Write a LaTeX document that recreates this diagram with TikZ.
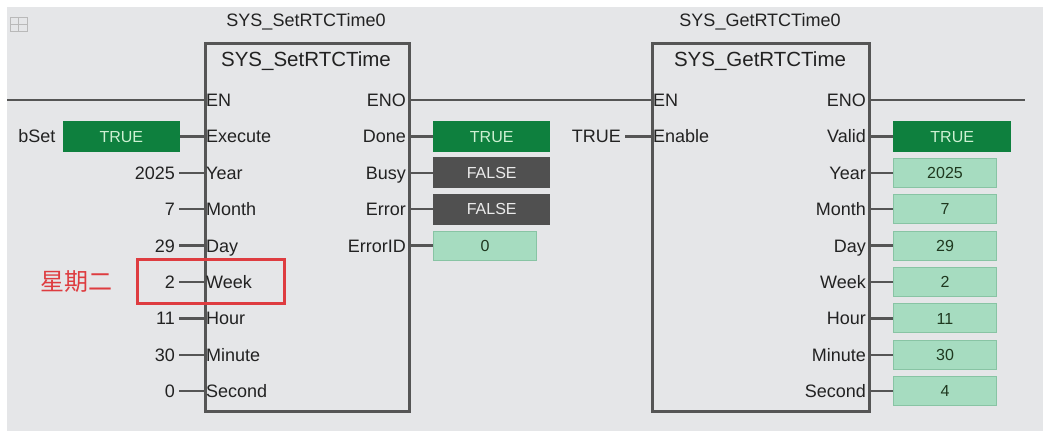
\documentclass[tikz,border=0pt]{standalone}
\usepackage{fontspec}
\setmainfont{Liberation Sans}
\newfontfamily\cjkfont{Noto Sans CJK SC}
\usetikzlibrary{positioning}

\definecolor{panelbg}{RGB}{229,230,232}
\definecolor{fbline}{RGB}{85,85,85}
\definecolor{pintext}{RGB}{34,34,34}
\definecolor{boolgreen}{RGB}{14,128,62}
\definecolor{truetext}{RGB}{205,240,210}
\definecolor{falsegray}{RGB}{80,80,80}
\definecolor{mint}{RGB}{166,220,192}
\definecolor{mintedge}{RGB}{136,196,164}
\definecolor{markred}{RGB}{222,60,64}

\newcommand\fbpinfont{\fontsize{18}{20}\selectfont}
\newcommand\fbtypefont{\fontsize{20.5}{23}\selectfont}
\newcommand\fbvalfont{\fontsize{16}{18}\selectfont}

\tikzset{
  fbox/.style={draw=fbline, line width=3pt, anchor=north west, inner sep=0pt, minimum height=368pt},
  fbinst/.style={font=\fbpinfont, text=pintext},
  fbtype/.style={font=\fbtypefont, text=pintext},
  pinin/.style={font=\fbpinfont, text=pintext, anchor=west, inner sep=2pt, text height=13pt, text depth=0pt},
  pinout/.style={pinin, anchor=east},
  lit/.style={font=\fbpinfont, text=pintext, inner sep=4pt, text height=13pt, text depth=0pt},
  truebox/.style={fill=boolgreen, text=truetext, font=\fbvalfont, minimum width=117pt, minimum height=31pt, inner sep=0pt, text height=11.5pt, text depth=0pt},
  falsebox/.style={truebox, fill=falsegray, text=white!92!black},
  valbox/.style={fill=mint, draw=mintedge, line width=1pt, text=pintext!90!green, font=\fbvalfont, minimum width=103pt, minimum height=29pt, inner sep=0pt, text height=11.5pt, text depth=0pt},
  wire/.style={draw=fbline, line width=2.5pt}
}

\begin{document}
\begin{tikzpicture}[x=1pt, y=-1pt]
  \useasboundingbox (0,0) rectangle (1043,431);
  \fill[white] (0,0) rectangle (1043,431);
  \fill[panelbg] (7,7) rectangle (1043,431);
  % network icon
  \draw[gray!55, line width=0.9pt] (10,17) rectangle (27,31) (18.5,17) -- (18.5,31) (10,24) -- (27,24);

  % function blocks
  \node[fbox, minimum width=204pt] (setfb) at (204,42) {};
  \node[fbox, minimum width=217pt] (getfb) at (651,42) {};
  \node[fbinst] (setinst) at (306,22) {SYS\_SetRTCTime0};
  \node[fbtype] (settype) at (306,61) {SYS\_SetRTCTime};
  \node[fbinst] (getinst) at (760,22) {SYS\_GetRTCTime0};
  \node[fbtype] (gettype) at (760,61) {SYS\_GetRTCTime};

  % pins
  \foreach \p [count=\i from 0] in {EN,Execute,Year,Month,Day,Week,Hour,Minute,Second}
    \node[pinin] (set-\p) at (204,{100+36.4*\i}) {\p};
  \foreach \p [count=\i from 0] in {ENO,Done,Busy,Error,ErrorID}
    \node[pinout] (set-\p) at (408,{100+36.4*\i}) {\p};
  \foreach \p [count=\i from 0] in {EN,Enable}
    \node[pinin] (get-\p) at (651,{100+36.4*\i}) {\p};
  \foreach \p [count=\i from 0] in {ENO,Valid,Year,Month,Day,Week,Hour,Minute,Second}
    \node[pinout] (get-\p) at (868,{100+36.4*\i}) {\p};

  % power rail
  \coordinate (railL) at (7,100);
  \coordinate (railR) at (1025,100);
  \draw[wire] (railL) -- (set-EN.west);
  \draw[wire] (set-ENO.east) -- (get-EN.west);
  \draw[wire] (get-ENO.east) -- (railR);

  % SetRTCTime inputs
  \node[truebox, left=24pt of set-Execute.west] (setexec) {TRUE};
  \node[lit, left=3pt of setexec] (bset) {bSet};
  \draw[wire] (setexec) -- (set-Execute.west);
  \foreach \p/\v in {Year/2025,Month/7,Day/29,Week/2,Hour/11,Minute/30,Second/0}{
    \node[lit, left=25pt of set-\p.west] (lit-\p) {\v};
    \draw[wire] (lit-\p) -- (set-\p.west);
  }

  % SetRTCTime outputs
  \node[truebox, right=25pt of set-Done.east] (setdone) {TRUE};
  \node[falsebox, right=25pt of set-Busy.east] (setbusy) {FALSE};
  \node[falsebox, right=25pt of set-Error.east] (seterror) {FALSE};
  \node[valbox, right=25pt of set-ErrorID.east] (seterrid) {0};
  \foreach \p/\b in {Done/setdone,Busy/setbusy,Error/seterror,ErrorID/seterrid}
    \draw[wire] (set-\p.east) -- (\b);

  % GetRTCTime
  \node[lit, left=26pt of get-Enable.west] (getenable) {TRUE};
  \draw[wire] (getenable) -- (get-Enable.west);
  \node[truebox, minimum width=118pt, right=25pt of get-Valid.east] (getvalid) {TRUE};
  \draw[wire] (get-Valid.east) -- (getvalid);
  \foreach \p/\v in {Year/2025,Month/7,Day/29,Week/2,Hour/11,Minute/30,Second/4}{
    \node[valbox, right=25pt of get-\p.east] (out-\p) {\v};
    \draw[wire] (get-\p.east) -- (out-\p);
  }

  % week mark
  \node[draw=markred, line width=3pt, anchor=north west, minimum width=147pt, minimum height=44pt, inner sep=0pt] (weekmark) at (136,258) {};
  \node[text=markred, font=\cjkfont\fontsize{24}{26}\selectfont, inner sep=0pt, left=23pt of weekmark] (weeklabel) {星期二};
\end{tikzpicture}
\end{document}
